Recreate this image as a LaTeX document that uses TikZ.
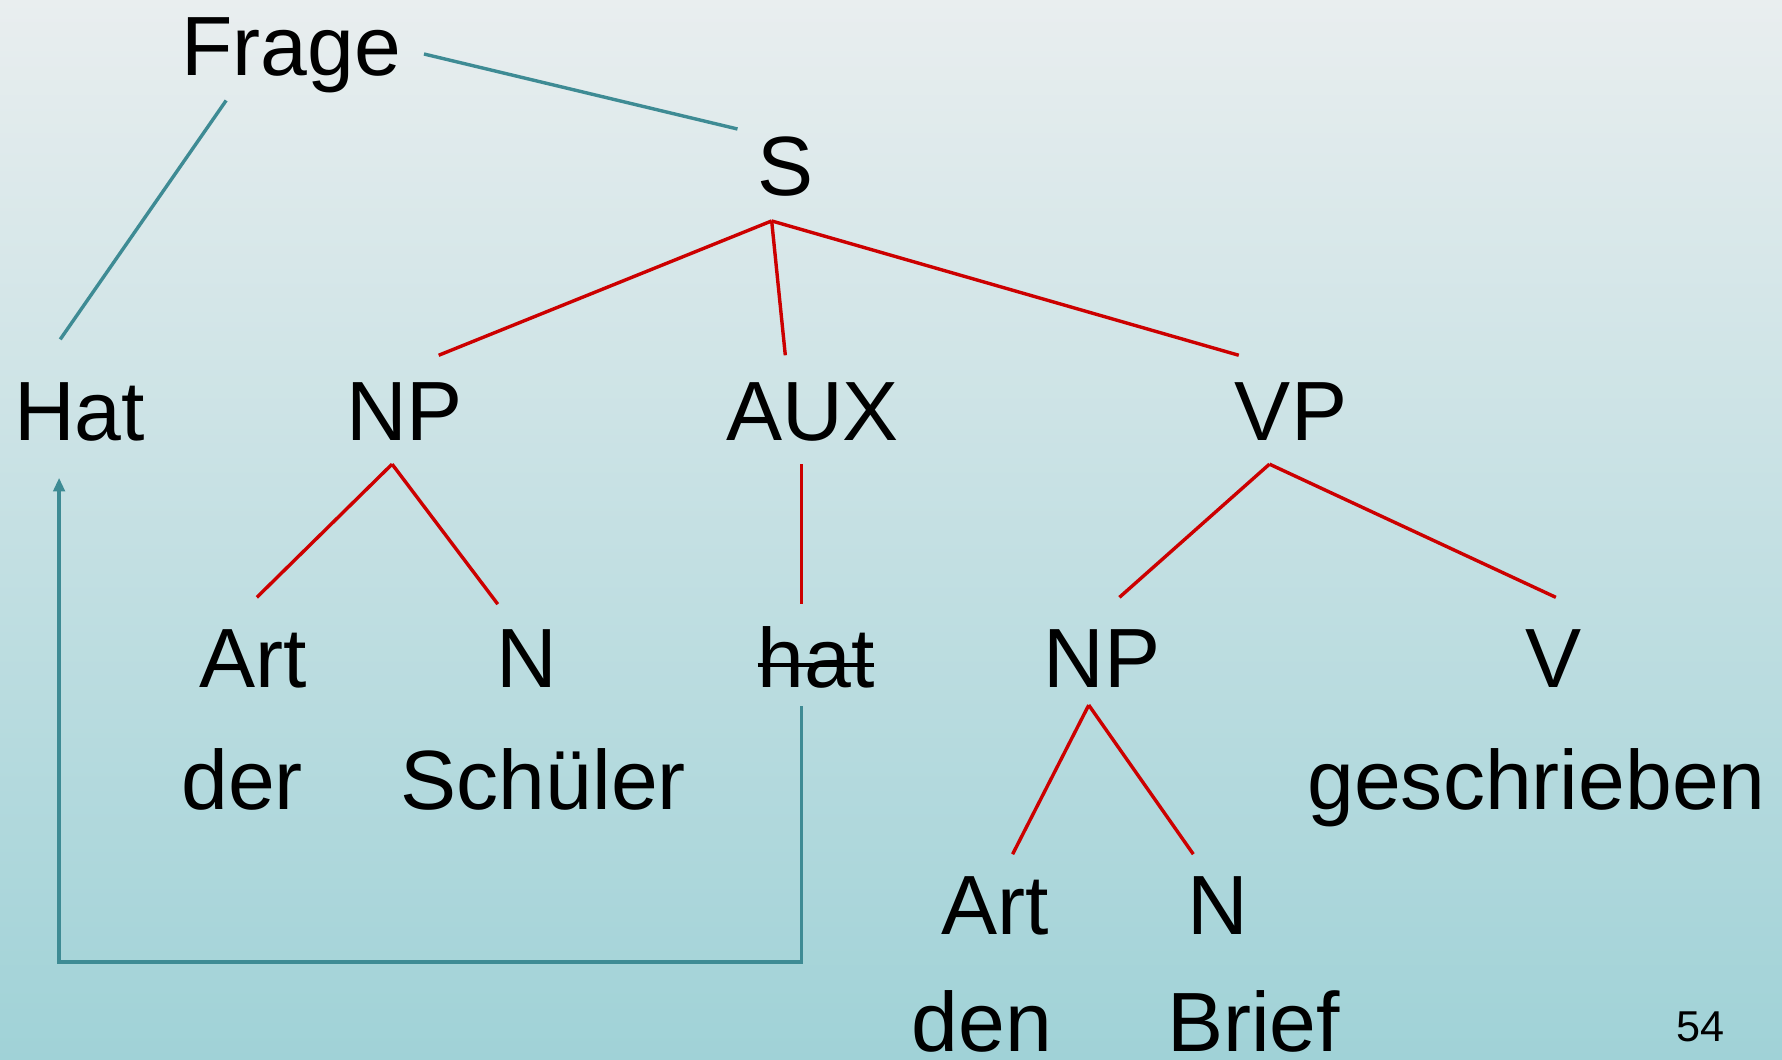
\documentclass[tikz,border=0pt]{standalone}
\usepackage{fontspec}
\setmainfont{Liberation Sans}
\usetikzlibrary{positioning,calc,arrows.meta}
\definecolor{moveteal}{RGB}{62,139,148}
\definecolor{treered}{RGB}{204,0,0}
\definecolor{bgtop}{RGB}{233,238,239}
\definecolor{bgbottom}{RGB}{160,210,215}
\newcommand{\durch}[1]{\sbox0{#1}\rlap{\rule[0.25em]{\wd0}{1.5pt}}#1}

\begin{document}
\begin{tikzpicture}[x=0.5pt,y=0.5pt,
    word/.style={font=\fontsize{37}{44}\selectfont, anchor=base, text height=26.5pt, text depth=0pt, inner xsep=10pt, inner ysep=10pt},
    tree/.style={treered, line width=1.5pt},
    move/.style={moveteal, line width=1.5pt}]
    % Syntax tree of the question
    \useasboundingbox (0,0) rectangle (1568,-932);
    \shade[top color=bgtop, bottom color=bgbottom] (0,0) rectangle (1568,-932);

    \node[word] (frage) at (256,-66) {Frage};
    \node[word] (s) at (691,-172) {S};
    \node[word] (hat) at (70,-388) {Hat};
    \node[word] (np) at (356,-388) {NP};
    \node[word] (aux) at (715,-388) {AUX};
    \node[word] (vp) at (1136,-388) {VP};
    \node[word] (art) at (223,-605) {Art};
    \node[word] (n) at (464,-605) {N};
    \node[word] (hatx) at (718,-605) {\durch{hat}};
    \node[word] (np2) at (970,-605) {NP};
    \node[word] (v) at (1367,-605) {V};
    \node[word] (der) at (213,-712) {der};
    \node[word] (schueler) at (478,-712) {Schüler};
    \node[word] (geschrieben) at (1352,-712) {geschrieben};
    \node[word] (art2) at (876,-822) {Art};
    \node[word] (n2) at (1072,-822) {N};
    \node[word, inner ysep=1pt, text depth=0.5pt] (den) at (864,-925) {den};
    \node[word, inner ysep=1pt, text depth=0.5pt] (brief) at (1103,-925) {Brief};
    \node[anchor=base, font=\fontsize{19}{22}\selectfont] (page) at (1496,-916) {54};

    \draw[move] ($(frage.east)+(0,-8)$) -- ($(s.west)+(3,32)$);
    \draw[move] ($(frage.south)+(-57,-2)$) -- ($(hat.north)+(-17,16)$);

    \draw[tree] ($(s.south)+(-12,-2)$) -- ($(np.north)+(30,2)$);
    \draw[tree] ($(s.south)+(-12,-2)$) -- ($(aux.north)+(-24,2)$);
    \draw[tree] ($(s.south)+(-12,-2)$) -- ($(vp.north)+(-46,2)$);
    \draw[tree] ($(np.south)+(-11,0)$) -- ($(art.north)+(3,6)$);
    \draw[tree] ($(np.south)+(-11,0)$) -- ($(n.north)+(-26,0)$);
    \draw[tree] ($(aux.south)+(-10,0)$) -- ($(hatx.north)+(-13,0)$);
    \draw[tree] ($(vp.south)+(-19,0)$) -- ($(np2.north)+(15,6)$);
    \draw[tree] ($(vp.south)+(-19,0)$) -- ($(v.north)+(2,6)$);
    \draw[tree] ($(np2.south)+(-12,5)$) -- ($(art2.north)+(15,-3)$);
    \draw[tree] ($(np2.south)+(-12,5)$) -- ($(n2.north)+(-22,-3)$);

    \draw[move,-{Triangle[length=6pt,width=5pt]}] ($(hatx.south)+(-13,4)$) -- ++(0,-225) -| ($(hat.south)+(-18,-12)$);
\end{tikzpicture}
\end{document}
